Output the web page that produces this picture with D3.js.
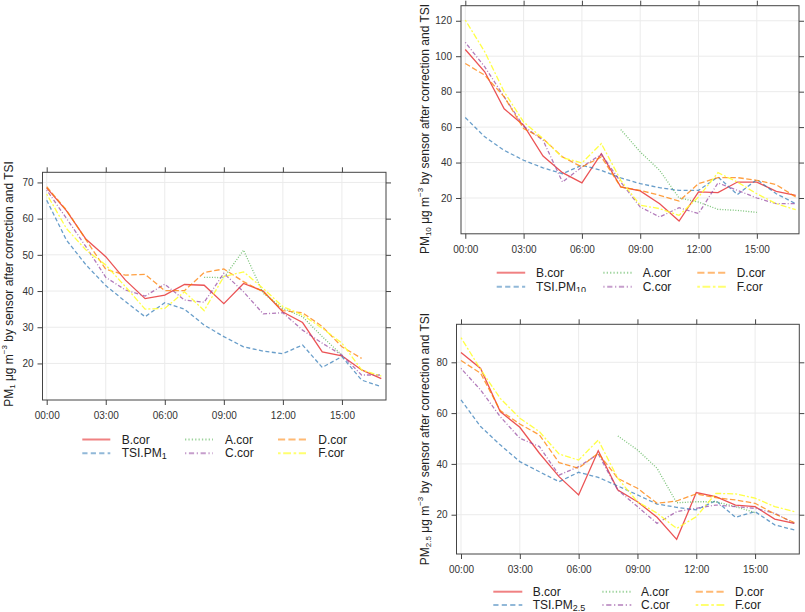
<!DOCTYPE html>
<html>
<head>
<meta charset="utf-8">
<script src="https://cdn.jsdelivr.net/npm/d3@7"></script>
<style>
  html, body { margin: 0; padding: 0; background: #fff; }
  svg { display: block; }
  .tick-label { font-family: "Liberation Sans Narrow", "Arial Narrow", "Liberation Sans", Arial, sans-serif; font-size: 10px; fill: #333; }
  .legend-label { font-family: "Liberation Sans Narrow", "Arial Narrow", "Liberation Sans", Arial, sans-serif; font-size: 12px; fill: #222; }
  .ylab { font-family: "Liberation Sans", Arial, sans-serif; font-size: 12px; fill: #222; }
</style>
</head>
<body>
<svg id="chart" width="805" height="612"></svg>
<script>
// ---------- data ----------
const hours = [0,1,2,3,4,5,6,7,8,9,10,11,12,13,14,15,16,17];
const xTickHours = [0,3,6,9,12,15];
const xTickLabels = ["00:00","03:00","06:00","09:00","12:00","15:00"];
const seriesNames = ["B.cor","TSI","A.cor","C.cor","D.cor","F.cor"];

// PM1
const pm1B   = [68.5,62.2,54.3,49.5,43.0,37.9,38.9,41.8,41.6,36.5,42.1,40.0,34.2,31.3,23.2,22.1,18.2,15.8];
const pm1TSI = [65.1,54.1,47.2,41.5,37.1,32.9,36.8,35.0,30.6,27.4,24.6,23.4,22.7,25.1,18.9,21.9,15.4,13.6];
const pm1A   = [null,null,null,null,null,null,null,null,43.8,43.7,51.3,39.4,35.2,32.9,27.4,22.3,null,null];
const pm1C   = [67.9,60.1,52.2,43.8,40.3,38.6,41.9,37.5,36.9,44.9,39.8,33.7,34.0,29.2,25.6,22.3,16.8,16.8];
const pm1D   = [68.8,62.4,54.1,46.0,44.4,44.6,40.1,40.1,45.1,46.1,42.6,39.8,34.6,34.0,30.2,24.6,21.4,null];
const pm1F   = [66.8,57.3,51.3,47.2,41.2,35.0,35.2,39.8,34.6,44.0,45.3,40.7,35.7,33.4,29.7,25.6,18.2,16.5];
const pm1YTicks = [20,30,40,50,60,70];

// PM10
const pm10B   = [103.8,91.2,70.3,61.1,43.7,34.3,28.5,45.0,26.2,24.0,16.8,7.0,23.4,23.0,29.0,29.0,23.8,21.5];
const pm10TSI = [65.4,54.5,46.9,41.3,37.0,33.7,38.5,35.6,31.3,28.1,25.8,24.3,24.3,31.9,21.9,30.4,22.4,16.8];
const pm10A   = [null,null,null,null,null,null,null,null,58.6,46.0,35.6,20.0,17.7,13.6,13.0,11.9,null,null];
const pm10C   = [107.8,94.0,77.1,60.5,52.6,29.0,37.5,44.7,29.0,14.9,9.3,14.5,11.2,28.5,24.3,20.0,16.8,16.8];
const pm10D   = [95.9,89.3,77.1,59.2,53.5,43.2,37.5,43.2,26.2,24.3,21.5,18.3,28.1,31.5,31.5,30.0,27.5,20.6];
const pm10F   = [120.4,102.5,79.9,62.9,53.5,42.8,39.8,50.7,30.0,15.9,14.0,10.2,20.6,34.3,29.0,22.4,16.8,13.4];
const pm10YTicks = [20,40,60,80,100,120];

// PM2.5
const pm25B   = [83.9,77.6,60.6,54.4,44.2,35.0,27.8,45.2,29.7,25.1,19.0,10.3,28.7,27.1,23.8,23.2,18.3,16.6];
const pm25TSI = [65.2,54.7,47.5,40.9,36.9,33.0,36.7,34.7,31.3,27.8,24.2,22.9,21.9,25.5,19.0,21.2,16.0,14.0];
const pm25A   = [null,null,null,null,null,null,null,null,51.0,45.5,38.3,24.7,25.1,25.1,23.2,20.8,null,null];
const pm25C   = [77.6,69.1,58.6,50.1,46.8,35.6,38.9,43.9,29.7,23.2,16.6,21.2,22.5,23.8,23.2,22.5,20.6,16.6];
const pm25D   = [80.7,75.7,61.0,55.7,51.4,40.5,38.3,44.2,34.3,30.4,24.5,25.4,28.2,26.7,25.8,24.5,20.3,16.9];
const pm25F   = [89.7,77.2,65.8,58.0,52.7,43.9,41.5,49.4,34.3,25.1,20.6,14.6,19.2,28.4,28.2,26.5,23.2,21.2];
const pm25YTicks = [20,40,60,80];

// ---------- styles ----------
const colors = ["#e41a1c","#377eb8","#4daf4a","#984ea3","#ff7f00","#ffff33"];
const dashes = [null,"4,2.5","1,1.6","1,2,4,2","5.5,2.5","2,2,6,2"];

const svg = d3.select("#chart");

function drawPanel(cfg) {
  const g = svg.append("g");
  if (cfg.clipBottom) {
    const id = "clip" + cfg.key;
    svg.append("defs").append("clipPath").attr("id", id)
      .append("rect").attr("x", 0).attr("y", 0).attr("width", 805).attr("height", cfg.clipBottom);
    g.attr("clip-path", `url(#${id})`);
  }
  const x = d3.scaleLinear().domain([0,17]).range(cfg.xRange);
  const y = d3.scaleLinear().domain(cfg.yDomain).range([cfg.box.y1, cfg.box.y0]);
  const b = cfg.box;

  // grid
  g.append("g").selectAll("line.gx").data(xTickHours).join("line")
    .attr("x1", d => x(d)).attr("x2", d => x(d)).attr("y1", b.y0).attr("y2", b.y1)
    .attr("stroke", "#ebebeb").attr("stroke-width", 1);
  g.append("g").selectAll("line.gy").data(cfg.yTicks).join("line")
    .attr("x1", b.x0).attr("x2", b.x1).attr("y1", d => y(d)).attr("y2", d => y(d))
    .attr("stroke", "#ebebeb").attr("stroke-width", 1);

  // series
  const line = d3.line().defined(d => d[1] != null).x(d => x(d[0])).y(d => y(d[1]));
  cfg.series.forEach((s, i) => {
    const pts = hours.map((h, k) => [h, s[k]]);
    g.append("path").datum(pts)
      .attr("d", line)
      .attr("fill", "none")
      .attr("stroke", colors[i])
      .attr("stroke-width", 1.3)
      .attr("stroke-opacity", i === 5 ? 0.9 : 0.75)
      .attr("stroke-dasharray", dashes[i]);
  });

  // box
  g.append("rect").attr("x", b.x0).attr("y", b.y0)
    .attr("width", b.x1 - b.x0).attr("height", b.y1 - b.y0)
    .attr("fill", "none").attr("stroke", "#444").attr("stroke-width", 1);

  // axes (bottom with labels, top/right ticks only)
  const axB = d3.axisBottom(x).tickValues(xTickHours).tickFormat((d, i) => xTickLabels[i]).tickSize(5).tickPadding(7);
  const axT = d3.axisTop(x).tickValues(xTickHours).tickFormat("").tickSize(5);
  const axL = d3.axisLeft(y).tickValues(cfg.yTicks).tickFormat(d3.format("d")).tickSize(5).tickPadding(4);
  const axR = d3.axisRight(y).tickValues(cfg.yTicks).tickFormat("").tickSize(5);
  [[axB, `translate(0,${b.y1})`], [axT, `translate(0,${b.y0})`], [axL, `translate(${b.x0},0)`], [axR, `translate(${b.x1},0)`]]
    .forEach(([ax, tr]) => {
      const a = g.append("g").attr("transform", tr).call(ax);
      a.select(".domain").remove();
      a.selectAll(".tick line").attr("stroke", "#444");
      a.selectAll(".tick text").attr("class", "tick-label").attr("fill", "#333");
    });

  // y label
  const yl = g.append("text").attr("class", "ylab")
    .attr("transform", `translate(${cfg.ylabX},${cfg.ylabY}) rotate(-90)`)
    .attr("text-anchor", "middle").attr("dominant-baseline", "central");
  yl.append("tspan").text("PM");
  yl.append("tspan").attr("font-size", "8px").attr("dy", "3").text(cfg.sub);
  yl.append("tspan").attr("dy", "-3").text(" \u03bcg m");
  yl.append("tspan").attr("font-size", "8px").attr("dy", "-5").text("\u22123");
  yl.append("tspan").attr("dy", "5").text(" by sensor after correction and TSI");

  // legend
  const L = cfg.legend;
  [0,1,2,3,4,5].forEach(i => {
    const col = Math.floor(i / 2), row = i % 2;
    const lx = L.lineX[col], ly = L.rows[row];
    g.append("line").attr("x1", lx).attr("x2", lx + L.lineW).attr("y1", ly).attr("y2", ly)
      .attr("stroke", colors[i]).attr("stroke-width", 2).attr("stroke-opacity", i === 5 ? 0.7 : 0.55)
      .attr("stroke-dasharray", dashes[i] ? dashes[i].split(",").map(v => +v * 1.3).join(",") : null);
    const t = g.append("text").attr("class", "legend-label")
      .attr("x", L.textX[col]).attr("y", ly).attr("dominant-baseline", "central");
    if (i === 1) {
      t.append("tspan").text("TSI.PM");
      t.append("tspan").attr("font-size", "9px").attr("dy", "3").text(cfg.sub);
    } else {
      t.text(seriesNames[i]);
    }
  });
}

drawPanel({
  key: "pm1", sub: "1",
  series: [pm1B, pm1TSI, pm1A, pm1C, pm1D, pm1F],
  yTicks: pm1YTicks,
  box: {x0: 42.5, x1: 386, y0: 172.3, y1: 400},
  xRange: [46.7, 381.3],
  yDomain: [9.9, 72.8],
  ylabX: 9, ylabY: 284,
  legend: {lineX: [82.3, 185, 278], lineW: 28, textX: [121.7, 225, 318.3], rows: [439.5, 453.3]}
});

drawPanel({
  key: "pm10", sub: "10", clipBottom: 292,
  series: [pm10B, pm10TSI, pm10A, pm10C, pm10D, pm10F],
  yTicks: pm10YTicks,
  box: {x0: 461, x1: 799, y0: 5.7, y1: 233.8},
  xRange: [465.3, 795.7],
  yDomain: [-0.2, 128.5],
  ylabX: 425, ylabY: 129,
  legend: {lineX: [496.7, 603.3, 697.3], lineW: 28.5, textX: [536, 642.7, 736.7], rows: [272.7, 286.7]}
});

drawPanel({
  key: "pm25", sub: "2.5",
  series: [pm25B, pm25TSI, pm25A, pm25C, pm25D, pm25F],
  yTicks: pm25YTicks,
  box: {x0: 456.5, x1: 799.3, y0: 324.3, y1: 554},
  xRange: [461, 794.3],
  yDomain: [4.53, 94.96],
  ylabX: 425, ylabY: 439,
  legend: {lineX: [493.3, 602.3, 695.7], lineW: 29, textX: [532.7, 641, 735], rows: [591.7, 605]}
});
</script>
</body>
</html>
